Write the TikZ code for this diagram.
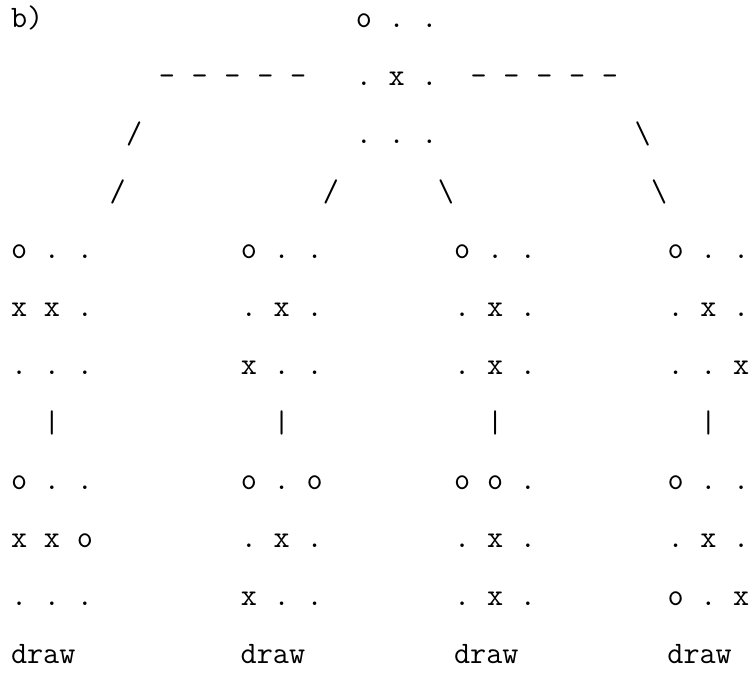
\documentclass[tikz,border=0pt]{standalone}
\usepackage{fontspec}
\tikzset{
  glyph/.style={font=\fontsize{31.37pt}{37pt}\selectfont\ttfamily, anchor=base, inner sep=0pt, outer sep=0pt},
  word/.style={font=\fontsize{31.37pt}{37pt}\selectfont\ttfamily, anchor=base west, inner sep=0pt, outer sep=0pt}
}
\newcommand\gl[3]{\node[glyph] (n#1x#2) at ({11+(#2+0.5)*16.41},{-(28+(#1-1)*57.73)}) {#3};}
\newcommand\wordat[3]{\node[word] (w#1x#2) at ({11+#2*16.41},{-(28+(#1-1)*57.73)}) {#3};}
\newcommand\trip[5]{\gl{#1}{#2}{#3}\gl{#1}{\the\numexpr#2+2\relax}{#4}\gl{#1}{\the\numexpr#2+4\relax}{#5}}
\begin{document}
\begin{tikzpicture}[x=1bp,y=1bp]
\useasboundingbox (0,0) rectangle (753,-673);
% row 1
\wordat{1}{0}{b)}
\trip{1}{21}{o}{.}{.}
% row 2
\gl{2}{9}{-}\gl{2}{11}{-}\gl{2}{13}{-}\gl{2}{15}{-}\gl{2}{17}{-}
\trip{2}{21}{.}{x}{.}
\gl{2}{28}{-}\gl{2}{30}{-}\gl{2}{32}{-}\gl{2}{34}{-}\gl{2}{36}{-}
% row 3
\gl{3}{7}{/}
\trip{3}{21}{.}{.}{.}
\gl{3}{38}{\textbackslash}
% row 4
\gl{4}{6}{/}\gl{4}{19}{/}\gl{4}{26}{\textbackslash}\gl{4}{39}{\textbackslash}
% boards, first ply
\trip{5}{0}{o}{.}{.}\trip{5}{14}{o}{.}{.}\trip{5}{27}{o}{.}{.}\trip{5}{40}{o}{.}{.}
\trip{6}{0}{x}{x}{.}\trip{6}{14}{.}{x}{.}\trip{6}{27}{.}{x}{.}\trip{6}{40}{.}{x}{.}
\trip{7}{0}{.}{.}{.}\trip{7}{14}{x}{.}{.}\trip{7}{27}{.}{x}{.}\trip{7}{40}{.}{.}{x}
% bars
\gl{8}{2}{|}\gl{8}{16}{|}\gl{8}{29}{|}\gl{8}{42}{|}
% boards, second ply
\trip{9}{0}{o}{.}{.}\trip{9}{14}{o}{.}{o}\trip{9}{27}{o}{o}{.}\trip{9}{40}{o}{.}{.}
\trip{10}{0}{x}{x}{o}\trip{10}{14}{.}{x}{.}\trip{10}{27}{.}{x}{.}\trip{10}{40}{.}{x}{.}
\trip{11}{0}{.}{.}{.}\trip{11}{14}{x}{.}{.}\trip{11}{27}{.}{x}{.}\trip{11}{40}{o}{.}{x}
% results
\wordat{12}{0}{draw}\wordat{12}{14}{draw}\wordat{12}{27}{draw}\wordat{12}{40}{draw}
\end{tikzpicture}
\end{document}
